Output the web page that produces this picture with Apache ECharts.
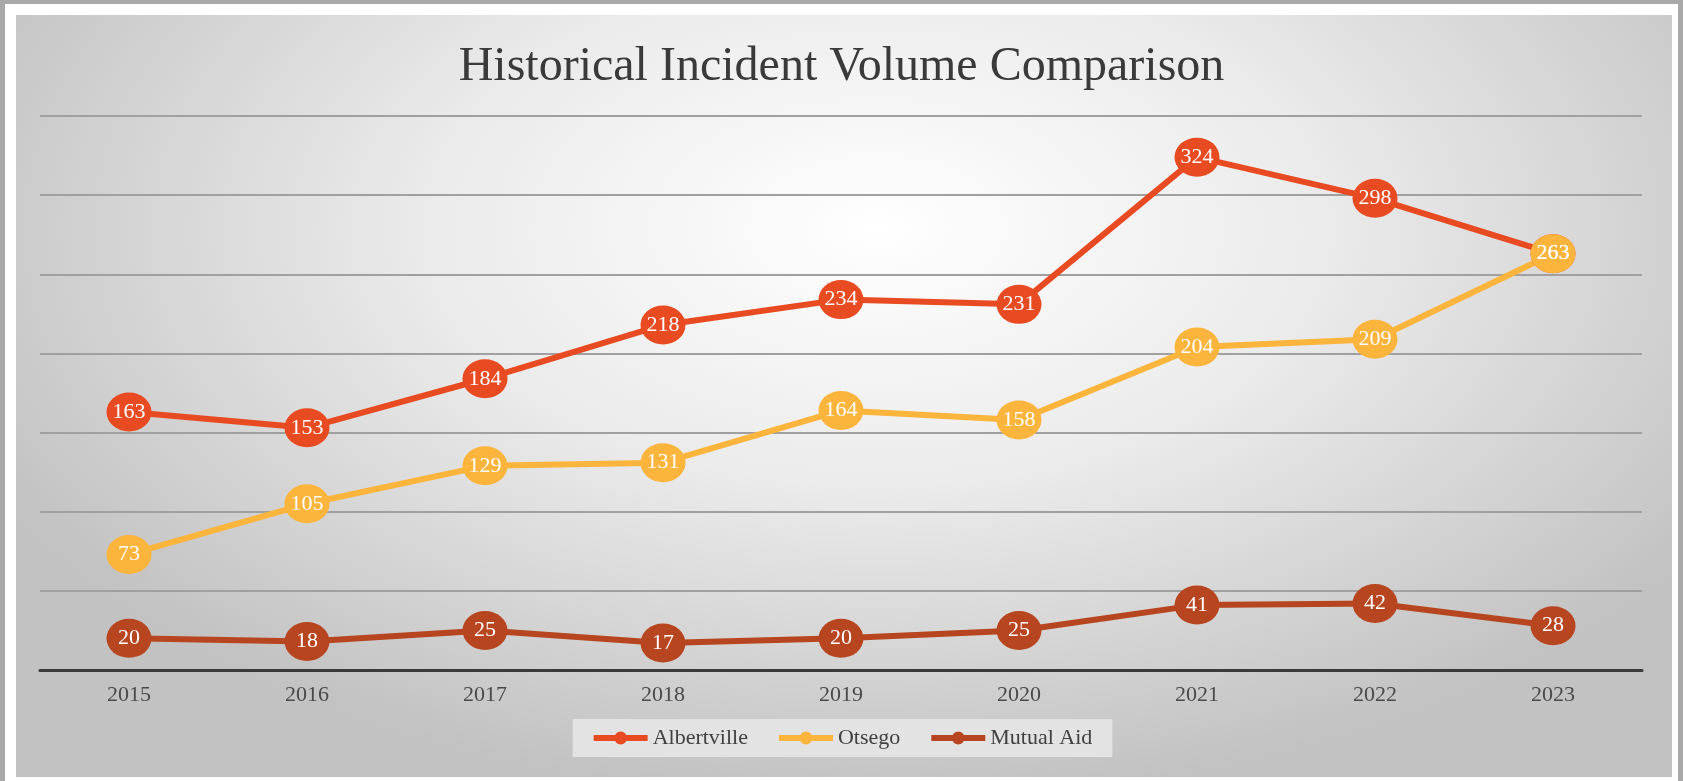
<!DOCTYPE html>
<html>
<head>
<meta charset="utf-8">
<script src="https://cdn.jsdelivr.net/npm/echarts@6/dist/echarts.min.js"></script>
<style>
  html, body { margin: 0; padding: 0; width: 1683px; height: 781px; overflow: hidden; background: #a9a9a9; }
  #frame { position: absolute; left: 5px; top: 4px; width: 1673px; height: 777px; background: #ffffff; }
  #panel { position: absolute; left: 16px; top: 15px; width: 1656px; height: 762px;
    background: radial-gradient(ellipse 60% 75% at 52% 28%, #ffffff 0%, #ebebeb 45%, #c2c2c2 100%); }
  #chart { position: absolute; left: 0; top: 0; width: 1683px; height: 781px; }
</style>
</head>
<body>
<div id="frame"></div>
<div id="panel"></div>
<div id="chart"></div>
<script>
const titleText = 'Historical Incident Volume Comparison';
const years = ['2015', '2016', '2017', '2018', '2019', '2020', '2021', '2022', '2023'];
const albertville = [163, 153, 184, 218, 234, 231, 324, 298, 263];
const otsego = [73, 105, 129, 131, 164, 158, 204, 209, 263];
const mutualAid = [20, 18, 25, 17, 20, 25, 41, 42, 28];
const seriesNames = ['Albertville', 'Otsego', 'Mutual Aid'];
const seriesColors = ['#e84b22', '#fbb43c', '#b7451f'];

const serif = '"Liberation Serif", "DejaVu Serif", serif';
const chart = echarts.init(document.getElementById('chart'), null, { renderer: 'canvas' });

function mkSeries(name, data, color) {
  return {
    name: name,
    type: 'line',
    data: data,
    symbol: 'circle',
    symbolSize: [45, 39],
    lineStyle: { color: color, width: 6 },
    itemStyle: { color: color },
    label: {
      show: true,
      position: 'inside',
      color: '#ffffff',
      fontFamily: serif,
      fontSize: 22
    },
    emphasis: { disabled: true },
    animation: false
  };
}

chart.setOption({
  backgroundColor: 'transparent',
  animation: false,
  title: {
    text: titleText,
    left: 'center',
    top: 38,
    textStyle: { fontFamily: serif, fontSize: 48, fontWeight: 'normal', color: '#3a3a3a' }
  },
  legend: {
    data: seriesNames,
    left: 'center',
    top: 719,
    padding: [8, 20, 8, 18],
    backgroundColor: '#e3e3e3',
    itemWidth: 54,
    itemHeight: 16,
    itemGap: 28,
    lineStyle: { width: 6 },
    textStyle: { fontFamily: serif, fontSize: 22, color: '#404040' }
  },
  grid: { left: 40, right: 41, top: 116, bottom: 111, containLabel: false },
  xAxis: {
    type: 'category',
    data: years,
    boundaryGap: true,
    axisLine: { show: true, lineStyle: { color: '#3a3a3a', width: 3 } },
    axisTick: { show: false },
    axisLabel: { fontFamily: serif, fontSize: 22, color: '#4a4a4a', margin: 14 }
  },
  yAxis: {
    type: 'value',
    min: 0,
    max: 350,
    interval: 50,
    axisLabel: { show: false },
    axisLine: { show: false },
    axisTick: { show: false },
    splitLine: { show: true, lineStyle: { color: '#a0a0a0', width: 2 } }
  },
  series: [
    mkSeries(seriesNames[0], albertville, seriesColors[0]),
    mkSeries(seriesNames[1], otsego, seriesColors[1]),
    mkSeries(seriesNames[2], mutualAid, seriesColors[2])
  ]
});
</script>
</body>
</html>
